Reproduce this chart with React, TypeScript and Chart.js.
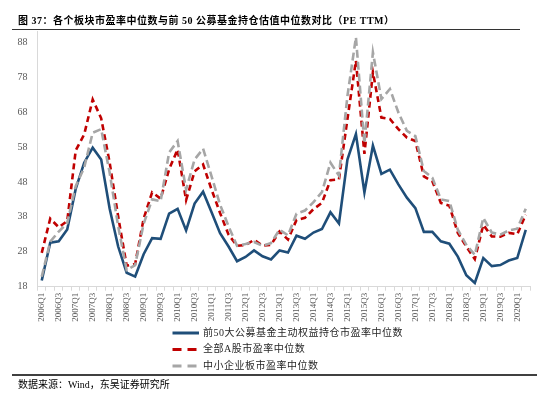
import React, { useEffect, useRef } from "react";
import { Chart, registerables } from "chart.js";

Chart.register(...registerables);

const quarters: string[] = [
  "2006Q1", "2006Q2", "2006Q3", "2006Q4",
  "2007Q1", "2007Q2", "2007Q3", "2007Q4",
  "2008Q1", "2008Q2", "2008Q3", "2008Q4",
  "2009Q1", "2009Q2", "2009Q3", "2009Q4",
  "2010Q1", "2010Q2", "2010Q3", "2010Q4",
  "2011Q1", "2011Q2", "2011Q3", "2011Q4",
  "2012Q1", "2012Q2", "2012Q3", "2012Q4",
  "2013Q1", "2013Q2", "2013Q3", "2013Q4",
  "2014Q1", "2014Q2", "2014Q3", "2014Q4",
  "2015Q1", "2015Q2", "2015Q3", "2015Q4",
  "2016Q1", "2016Q2", "2016Q3", "2016Q4",
  "2017Q1", "2017Q2", "2017Q3", "2017Q4",
  "2018Q1", "2018Q2", "2018Q3", "2018Q4",
  "2019Q1", "2019Q2", "2019Q3", "2019Q4",
  "2020Q1", "2020Q2",
];

const top50Fund: number[] = [
  19.8, 30.6, 31.0, 34.4, 46.0, 53.5, 57.8, 54.4,
  40.3, 29.5, 22.0, 20.9, 27.3, 31.9, 31.7, 38.9,
  40.3, 34.1, 41.8, 45.2, 39.3, 33.3, 29.5, 25.3,
  26.5, 28.4, 26.7, 25.8, 28.4, 27.8, 32.6, 31.7,
  33.5, 34.5, 39.3, 36.1, 54.4, 61.7, 45.0, 58.4,
  50.3, 51.5, 47.3, 43.5, 40.5, 33.7, 33.7, 31.0,
  30.3, 26.6, 21.3, 19.1, 26.2, 23.9, 24.2, 25.5,
  26.2, 34.3,
];

const allAShares: number[] = [
  27.7, 37.5, 35.0, 36.8, 57.0, 61.6, 71.6, 66.2,
  53.5, 38.1, 24.0, 24.5, 37.5, 45.0, 43.2, 51.6,
  57.3, 42.8, 51.0, 53.0, 45.8, 39.1, 32.9, 29.7,
  29.9, 31.4, 29.8, 30.0, 33.8, 31.5, 37.1, 37.7,
  40.2, 42.0, 48.5, 48.7, 66.0, 82.7, 56.0, 79.4,
  66.4, 66.0, 63.1, 60.7, 59.7, 49.6, 48.2, 42.0,
  41.2, 33.4, 29.5, 25.9, 35.7, 32.4, 32.3, 33.4,
  33.0, 38.6,
];

const smeBoard: number[] = [
  20.9, 30.9, 33.8, 36.2, 46.8, 52.1, 62.1, 63.1,
  50.6, 35.3, 22.8, 24.2, 36.0, 43.0, 42.5, 56.4,
  59.7, 45.8, 54.4, 57.5, 49.6, 41.5, 35.3, 29.7,
  30.2, 30.8, 29.7, 30.5, 34.3, 32.7, 38.9, 39.8,
  42.2, 45.1, 53.5, 49.8, 72.6, 89.4, 59.0, 85.1,
  71.7, 74.6, 67.9, 62.6, 61.1, 51.1, 49.2, 43.0,
  42.5, 34.3, 30.0, 27.1, 37.7, 33.5, 32.9, 34.1,
  34.6, 40.3,
];

const yTicks: number[] = [18, 28, 38, 48, 58, 68, 78, 88];

const seriesNames: string[] = [
  "前50大公募基金主动权益持仓市盈率中位数",
  "全部A股市盈率中位数",
  "中小企业板市盈率中位数",
];

const titleText = "图 37：各个板块市盈率中位数与前 50 公募基金持仓估值中位数对比（PE TTM）";
const sourceText = "数据来源：Wind，东吴证券研究所";

const FONT = '"Liberation Serif", "Times New Roman", "Noto Sans CJK SC", serif';

const BLUE = "#1F4E79";
const RED = "#C00000";
const GRAY = "#A6A6A6";

const decorPlugin = {
  id: "decor",
  afterDraw(chart: any) {
    const ctx = chart.ctx as any;
    ctx.save();
    // title
    ctx.fillStyle = "#000";
    ctx.textBaseline = "middle";
    ctx.textAlign = "left";
    ctx.font = `bold 10px ${FONT}`;
    ctx.letterSpacing = "0.5px";
    ctx.fillText(titleText, 18, 21);
    ctx.letterSpacing = "0px";
    // title rule
    ctx.strokeStyle = "#333";
    ctx.lineWidth = 1.2;
    ctx.beginPath();
    ctx.moveTo(12, 29.5);
    ctx.lineTo(520, 29.5);
    ctx.stroke();

    // legend
    const rows = [
      { y: 333, color: BLUE, dash: [] as number[], width: 3 },
      { y: 349.5, color: RED, dash: [9, 6], width: 3 },
      { y: 366, color: GRAY, dash: [9, 6], width: 3 },
    ];
    rows.forEach((r, i) => {
      ctx.strokeStyle = r.color;
      ctx.lineWidth = r.width;
      ctx.setLineDash(r.dash);
      ctx.beginPath();
      ctx.moveTo(172.5, r.y);
      ctx.lineTo(199, r.y);
      ctx.stroke();
      ctx.setLineDash([]);
      ctx.fillStyle = "#262626";
      ctx.font = `10px ${FONT}`;
      ctx.letterSpacing = "0.5px";
      ctx.fillText(seriesNames[i], 203, r.y);
      ctx.letterSpacing = "0px";
    });

    // bottom rule
    ctx.strokeStyle = "#404040";
    ctx.lineWidth = 2;
    ctx.beginPath();
    ctx.moveTo(12, 375);
    ctx.lineTo(537, 375);
    ctx.stroke();

    // source
    ctx.fillStyle = "#000";
    ctx.font = `10px ${FONT}`;
    ctx.fillText(sourceText, 18, 385.5);
    ctx.restore();
  },
};

export default function App() {
  const ref = useRef<HTMLCanvasElement>(null);

  useEffect(() => {
    if (!ref.current) return;
    const chart = new Chart(ref.current, {
      type: "line",
      data: {
        labels: quarters,
        datasets: [
          {
            label: seriesNames[0],
            data: top50Fund,
            borderColor: BLUE,
            backgroundColor: BLUE,
            borderWidth: 2.6,
            pointRadius: 0,
            tension: 0,
            order: 2,
          },
          {
            label: seriesNames[1],
            data: allAShares,
            borderColor: RED,
            backgroundColor: RED,
            borderWidth: 2.6,
            borderDash: [6, 4],
            pointRadius: 0,
            tension: 0,
            order: 1,
          },
          {
            label: seriesNames[2],
            data: smeBoard,
            borderColor: GRAY,
            backgroundColor: GRAY,
            borderWidth: 2.6,
            borderDash: [8, 4],
            pointRadius: 0,
            tension: 0,
            order: 0,
          },
        ],
      },
      options: {
        animation: false,
        responsive: false,
        devicePixelRatio: 1,
        layout: { padding: { left: 0, right: 20, top: 31.7, bottom: 0 } },
        plugins: {
          legend: { display: false },
          tooltip: { enabled: false },
          title: { display: false },
        },
        scales: {
          x: {
            type: "category",
            offset: true,
            grid: {
              display: true,
              drawOnChartArea: false,
              drawTicks: true,
              tickLength: 4,
              offset: true,
              color: "#d9d9d9",
            },
            border: { display: true, color: "#d9d9d9" },
            ticks: {
              autoSkip: false,
              maxRotation: 90,
              minRotation: 90,
              padding: 2,
              color: "#595959",
              font: { family: FONT, size: 9 },
              callback: (_v: any, i: number) => (i % 2 === 0 ? quarters[i] : ""),
            },
            afterFit: (s: any) => {
              s.height = 399 - 286.7;
            },
          },
          y: {
            min: 18,
            max: 91,
            afterBuildTicks: (s: any) => {
              s.ticks = yTicks.map((v) => ({ value: v }));
            },
            grid: { display: false, drawTicks: false },
            border: { display: true, color: "#d9d9d9" },
            ticks: {
              padding: 10,
              color: "#595959",
              font: { family: FONT, size: 10 },
            },
            afterFit: (s: any) => {
              s.width = 37.5;
            },
          },
        },
      },
      plugins: [decorPlugin],
    });
    return () => chart.destroy();
  }, []);

  return (
    <div style={{ position: "absolute", left: 0, top: 0, width: 550, height: 399 }}>
      <canvas ref={ref} width={550} height={399} />
    </div>
  );
}
